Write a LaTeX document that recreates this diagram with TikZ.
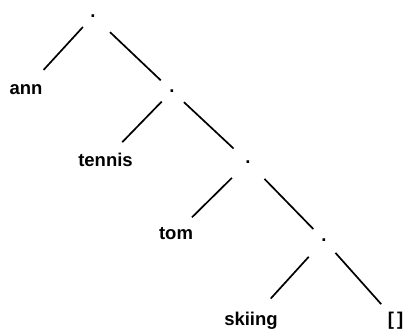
\documentclass[tikz,border=0pt]{standalone}
\usepackage{fontspec}
\setmainfont{Liberation Sans}
\begin{document}
\begin{tikzpicture}[x=1pt,y=-1pt,
  lbl/.style={inner sep=0pt, anchor=base, font=\fontsize{18.5}{20}\selectfont\bfseries},
  dotnode/.style={inner sep=0pt, font=\fontsize{18.5}{20}\selectfont\bfseries},
  edge/.style={line width=1.7pt}]
\useasboundingbox (0,0) rectangle (406,329);
% dots (list cells)
\node[dotnode] (d1) at (93,16) {.};
\node[dotnode] (d2) at (172,91) {.};
\node[dotnode] (d3) at (248,162) {.};
\node[dotnode] (d4) at (324,240) {.};
% leaves
\node[lbl] (ann) at (26,94) {ann};
\node[lbl] (tennis) at (105.5,166) {tennis};
\node[lbl] (tom) at (176,239) {tom};
\node[lbl] (skiing) at (251,325) {skiing};
\node[lbl] (nil) at (395.5,325) {[\,]};
% edges
\draw[edge, shorten <=14.9pt, shorten >=26pt] (d1.center) -- (ann.center);
\draw[edge, shorten <=23.5pt, shorten >=15.5pt] (d1.center) -- (d2.center);
\draw[edge, shorten <=14.8pt, shorten >=24pt] (d2.center) -- (tennis.center);
\draw[edge, shorten <=16.3pt, shorten >=19.8pt] (d2.center) -- (d3.center);
\draw[edge, shorten <=22.6pt, shorten >=22.4pt] (d3.center) -- (tom.center);
\draw[edge, shorten <=23.6pt, shorten >=15.3pt] (d3.center) -- (d4.center);
\draw[edge, shorten <=22.7pt, shorten >=29.3pt] (d4.center) -- (skiing.center);
\draw[edge, shorten <=17.2pt, shorten >=21.5pt] (d4.center) -- (nil.center);
\end{tikzpicture}
\end{document}
